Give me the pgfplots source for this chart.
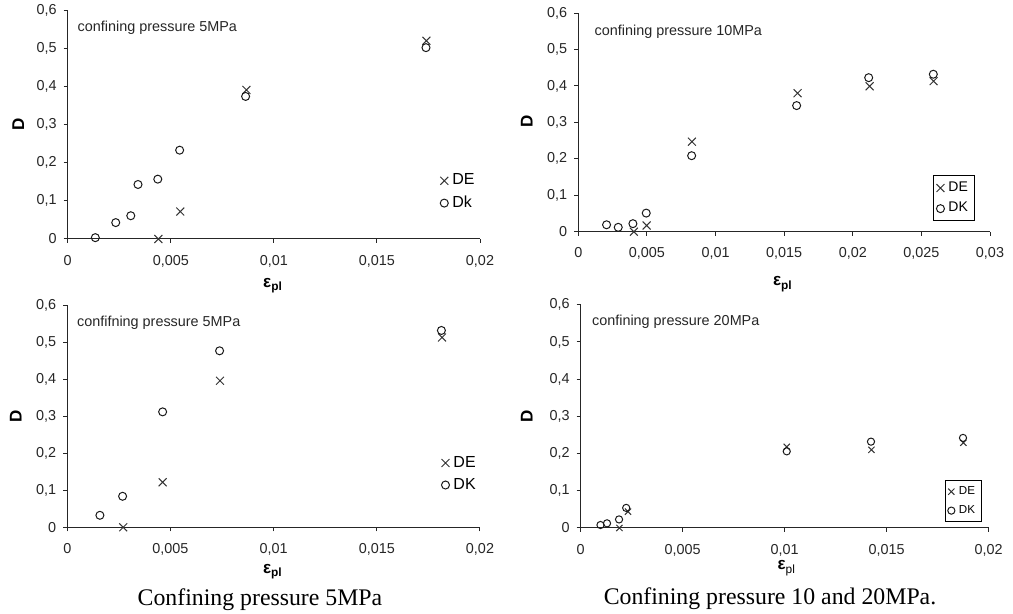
\documentclass[border=0pt]{standalone}
\usepackage{fontspec}
\setmainfont{Liberation Sans}
\newfontfamily\capserif{Liberation Serif}
\usepackage{pgfplots}
\pgfplotsset{compat=1.18}

\pgfplotsset{
 panel/.style={
  scale only axis, clip=false,
  axis x line*=bottom, axis y line*=left,
  axis line style={black!85, line width=0.5pt},
  tick align=outside, major tick length=2pt,
  every tick/.style={black!85, line width=0.5pt},
  scaled x ticks=false, scaled y ticks=false,
  ymin=0, ymax=0.6,
  ytick={0,0.1,0.2,0.3,0.4,0.5,0.6},
  yticklabels={0,{0,1},{0,2},{0,3},{0,4},{0,5},{0,6}},
  ticklabel style={font=\fontsize{7.2}{8}\selectfont, text=black!85},
  xticklabel style={yshift=-2.5pt},
  ylabel={\textbf{D}},
  ylabel style={font=\fontsize{8.5}{9}\selectfont, anchor=center},
  xlabel style={font=\fontsize{8.5}{9}\selectfont, anchor=center},
  legend cell align=left,
  legend image code/.code={\draw[#1] plot coordinates {(0.1cm,0cm)};},
 },
 de/.style={only marks, mark=x, mark size=2.8pt, black!80, mark options={line width=0.5pt}},
 dk/.style={only marks, mark=o, mark size=2pt, black!90, mark options={line width=0.5pt}},
}

\begin{document}
\begin{tikzpicture}
\path[use as bounding box] (0,0) rectangle (506.5pt,307pt);

% Panel 1 (top-left)
\begin{axis}[panel, at={(33.85pt,187.5pt)}, anchor=south west,
  width=206.15pt, height=114.35pt,
  xmin=0, xmax=0.02, xtick={0,0.005,0.01,0.015,0.02},
  xticklabels={0,{0,005},{0,01},{0,015},{0,02}},
  xlabel={\textbf{ε\textsubscript{pl}}},
  xlabel style={at={(axis description cs:0.498,-0.205)}},
  ylabel style={at={(axis description cs:-0.12,0.503)}},
  legend style={draw=none, fill=none, font=\fontsize{8}{9}\selectfont,
    at={(0.95,0.205)}, anchor=center, inner sep=1pt, row sep=0pt}]
\addplot[de] coordinates {(0.0044,0) (0.00546,0.072) (0.00867,0.391) (0.0174,0.52)};
\addlegendentry{DE}
\addplot[dk] coordinates {(0.00134,0.0035) (0.00233,0.043) (0.00306,0.061) (0.00341,0.143) (0.00437,0.157) (0.00543,0.233) (0.00863,0.374) (0.01738,0.502)};
\addlegendentry{Dk}
\end{axis}

% Panel 2 (top-right)
\begin{axis}[panel, at={(289.15pt,191.15pt)}, anchor=south west,
  width=205.85pt, height=109.35pt,
  xmin=0, xmax=0.03, xtick={0,0.005,0.01,0.015,0.02,0.025,0.03},
  xticklabels={0,{0,005},{0,01},{0,015},{0,02},{0,025},{0,03}},
  xlabel={\textbf{ε\textsubscript{pl}}},
  xlabel style={at={(axis description cs:0.497,-0.24)}},
  ylabel style={at={(axis description cs:-0.125,0.503)}},
  legend style={draw=black, fill=white, line width=0.5pt, font=\fontsize{7}{8}\selectfont,
    at={(0.913,0.1525)}, anchor=center, inner xsep=1.5pt, inner ysep=1pt, row sep=0pt}]
\addplot[de] coordinates {(0.00405,0) (0.00498,0.017) (0.00828,0.247) (0.01598,0.380) (0.02123,0.399) (0.02589,0.413)};
\addlegendentry{DE}
\addplot[dk] coordinates {(0.00206,0.019) (0.00291,0.012) (0.00398,0.022) (0.00495,0.051) (0.00826,0.2085) (0.01591,0.346) (0.02116,0.4226) (0.02587,0.432)};
\addlegendentry{DK}
\end{axis}

% Panel 3 (bottom-left)
\begin{axis}[panel, at={(33.65pt,43.35pt)}, anchor=south west,
  width=206.35pt, height=111pt,
  xmin=0, xmax=0.02, xtick={0,0.005,0.01,0.015,0.02},
  xticklabels={0,{0,005},{0,01},{0,015},{0,02}},
  xlabel={\textbf{ε\textsubscript{pl}}},
  xlabel style={at={(axis description cs:0.498,-0.2)}},
  ylabel style={at={(axis description cs:-0.125,0.501)}},
  legend style={draw=none, fill=none, font=\fontsize{8}{9}\selectfont,
    at={(0.953,0.24)}, anchor=center, inner sep=1pt, row sep=0pt}]
\addplot[de] coordinates {(0.00271,0) (0.00462,0.1216) (0.0074,0.396) (0.01816,0.513)};
\addlegendentry{DE}
\addplot[dk] coordinates {(0.00158,0.0324) (0.00268,0.0838) (0.00462,0.312) (0.00738,0.477) (0.01813,0.532)};
\addlegendentry{DK}
\end{axis}

% Panel 4 (bottom-right)
\begin{axis}[panel, at={(290.35pt,43pt)}, anchor=south west,
  width=204pt, height=111.65pt,
  xmin=0, xmax=0.02, xtick={0,0.005,0.01,0.015,0.02},
  xticklabels={0,{0,005},{0,01},{0,015},{0,02}},
  xlabel={\textbf{ε}\textsubscript{pl}},
  xlabel style={at={(axis description cs:0.505,-0.18)}},
  ylabel style={at={(axis description cs:-0.132,0.498)}},
  legend style={draw=black, fill=white, line width=0.5pt, font=\fontsize{5.8}{7}\selectfont,
    at={(0.938,0.1202)}, anchor=center, inner xsep=1.2pt, inner ysep=0.8pt, row sep=0pt},
  de/.append style={mark size=2.2pt}, dk/.append style={mark size=1.8pt}]
\addplot[de] coordinates {(0.0019,0) (0.00232,0.044) (0.0101,0.218) (0.01425,0.210) (0.01876,0.229)};
\addlegendentry{DE}
\addplot[dk] coordinates {(0.00097,0.008) (0.00129,0.0125) (0.00188,0.023) (0.00223,0.054) (0.0101,0.206) (0.01423,0.232) (0.01874,0.242)};
\addlegendentry{DK}
\end{axis}

% In-plot annotations
\node[anchor=west, inner sep=0pt, font=\fontsize{7.2}{8}\selectfont, text=black!85] at (38.65pt,293.15pt) {confining pressure 5MPa};
\node[anchor=west, inner sep=0pt, font=\fontsize{7.2}{8}\selectfont, text=black!85] at (297.15pt,291pt) {confining pressure 10MPa};
\node[anchor=west, inner sep=0pt, font=\fontsize{7.2}{8}\selectfont, text=black!85] at (38.35pt,145.65pt) {confifning pressure 5MPa};
\node[anchor=west, inner sep=0pt, font=\fontsize{7.2}{8}\selectfont, text=black!85] at (295.85pt,146.15pt) {confining pressure 20MPa};

% Captions
\node[anchor=base, inner sep=0pt, font=\capserif\fontsize{11.9}{13}\selectfont] at (130pt,4pt) {Confining pressure 5MPa};
\node[anchor=base, inner sep=0pt, font=\capserif\fontsize{11.9}{13}\selectfont] at (385pt,4.5pt) {Confining pressure 10 and 20MPa.};
\end{tikzpicture}
\end{document}
